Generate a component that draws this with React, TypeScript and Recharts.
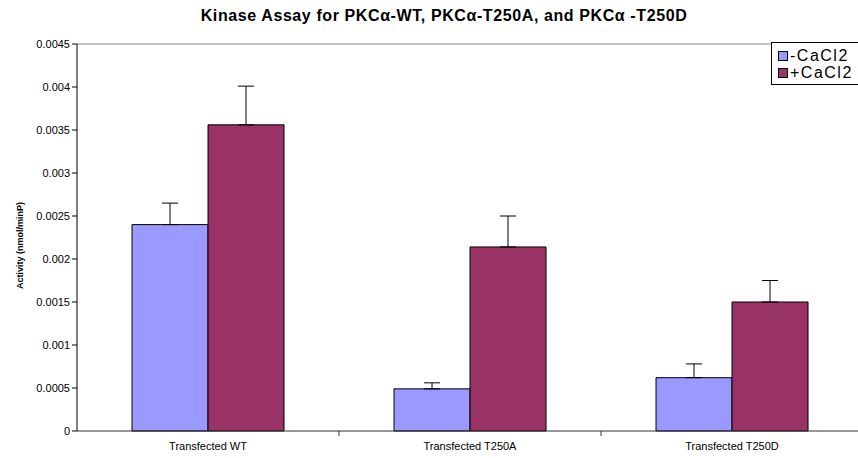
import React from "react";
import {
  BarChart,
  Bar,
  XAxis,
  YAxis,
  ErrorBar,
  ReferenceLine,
  Label,
} from "recharts";

const categories = ["Transfected WT", "Transfected T250A", "Transfected T250D"];
const minusCaCl2 = [0.0024, 0.00049, 0.00062];
const plusCaCl2 = [0.00356, 0.00214, 0.0015];
const minusCaCl2Err = [0.00025, 0.00007, 0.00016];
const plusCaCl2Err = [0.00045, 0.00036, 0.00025];
const yTicks = [0, 0.0005, 0.001, 0.0015, 0.002, 0.0025, 0.003, 0.0035, 0.004, 0.0045];

const BLUE = "#9999FF";
const PLUM = "#993366";
const FONT = "Arial, 'Liberation Sans', sans-serif";

const series = [
  { key: "minus", name: "-CaCl2", color: BLUE },
  { key: "plus", name: "+CaCl2", color: PLUM },
];

// one-sided (upward) error bars: [below, above]
const data = categories.map((name, i) => ({
  name,
  minus: minusCaCl2[i],
  plus: plusCaCl2[i],
  minusErr: [0, minusCaCl2Err[i]],
  plusErr: [0, plusCaCl2Err[i]],
}));

const CHART_W = 864;
const CHART_H = 458;
const LEFT = 77;
const RIGHT_MARGIN = 1;
const BAND = (CHART_W - LEFT - RIGHT_MARGIN) / categories.length;

// category label plus a tick mark on the boundary to its right
const XTick = (props: any) => {
  const { x, y, payload } = props;
  return (
    <g>
      <line x1={x + BAND / 2} y1={y} x2={x + BAND / 2} y2={y + 5} stroke="#333" />
      <text
        x={x}
        y={y + 19}
        textAnchor="middle"
        fontSize={11}
        fontFamily={FONT}
        fill="#000"
      >
        {payload.value}
      </text>
    </g>
  );
};

const YTitle = (props: any) => {
  const { viewBox } = props;
  const cx = 20;
  const cy = viewBox.y + viewBox.height / 2 + 8;
  return (
    <text
      x={cx}
      y={cy}
      transform={`rotate(-90, ${cx}, ${cy})`}
      textAnchor="middle"
      dominantBaseline="central"
      fontSize={9}
      fontWeight="bold"
      fontFamily={FONT}
      fill="#000"
    >
      Activity (nmol/minP)
    </text>
  );
};

const LegendBox = () => (
  <div
    style={{
      position: "absolute",
      left: 771,
      top: 42,
      width: 120,
      height: 43,
      border: "1px solid #000",
      background: "#fff",
      padding: "4px 0 0 6px",
      boxSizing: "border-box",
      fontFamily: FONT,
      fontSize: 16,
      letterSpacing: 1.5,
    }}
  >
    {series.map((s) => (
      <div key={s.key} style={{ display: "flex", alignItems: "center", height: 17 }}>
        <span
          style={{
            width: 10,
            height: 10,
            boxSizing: "border-box",
            background: s.color,
            border: "1px solid #000",
            marginRight: 2,
          }}
        />
        <span>{s.name}</span>
      </div>
    ))}
  </div>
);

export default function App() {
  return (
    <div
      style={{
        position: "absolute",
        left: 0,
        top: 0,
        width: 858,
        height: 458,
        overflow: "hidden",
        background: "#fff",
      }}
    >
      <div
        style={{
          position: "absolute",
          left: 0,
          top: 7,
          width: 888,
          textAlign: "center",
          fontFamily: FONT,
          fontWeight: "bold",
          fontSize: 16,
          letterSpacing: 0.6,
        }}
      >
        Kinase Assay for PKCα-WT, PKCα-T250A, and PKCα -T250D
      </div>
      <BarChart
        width={CHART_W}
        height={CHART_H}
        data={data}
        margin={{ top: 44, right: RIGHT_MARGIN, bottom: 0, left: 0 }}
        barCategoryGap="21%"
        barGap={0}
      >
        <ReferenceLine y={0.0045} stroke="#888" />
        <XAxis
          dataKey="name"
          height={27}
          tickLine={false}
          tickSize={0}
          tickMargin={0}
          axisLine={{ stroke: "#333" }}
          tick={<XTick />}
          interval={0}
        />
        <YAxis
          width={LEFT}
          domain={[0, 0.0045]}
          ticks={yTicks}
          interval={0}
          tickSize={5}
          tickMargin={2}
          axisLine={{ stroke: "#000" }}
          tickLine={{ stroke: "#000" }}
          tick={{ fontSize: 11, fontFamily: FONT, fill: "#000" }}
        >
          <Label content={<YTitle />} />
        </YAxis>
        <Bar dataKey="minus" name="-CaCl2" fill={BLUE} stroke="#000" strokeWidth={1} isAnimationActive={false}>
          <ErrorBar dataKey="minusErr" direction="y" width={8} stroke="#000" strokeWidth={1} />
        </Bar>
        <Bar dataKey="plus" name="+CaCl2" fill={PLUM} stroke="#000" strokeWidth={1} isAnimationActive={false}>
          <ErrorBar dataKey="plusErr" direction="y" width={8} stroke="#000" strokeWidth={1} />
        </Bar>
      </BarChart>
      <LegendBox />
    </div>
  );
}
